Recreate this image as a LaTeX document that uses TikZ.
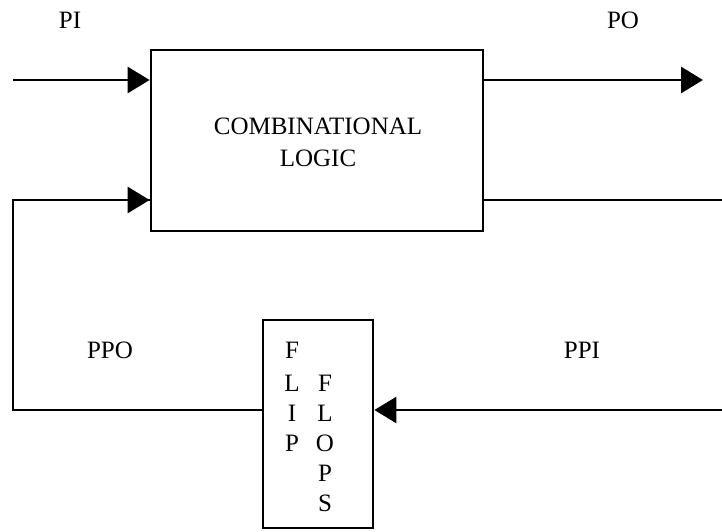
\documentclass[tikz,border=0pt]{standalone}
\usepackage{fontspec}
\setmainfont{Liberation Serif}
\usetikzlibrary{arrows.meta}
\begin{document}
\begin{tikzpicture}[x=1pt,y=-1pt,
  every node/.style={font=\fontsize{25}{32}\selectfont, inner sep=0pt},
  blockbox/.style={draw, line width=2.8pt, rectangle},
  wire/.style={line width=2.8pt},
  arr/.style={wire, -{Triangle[length=22pt,width=26pt]}},
  lbl/.style={anchor=center},
  ltr/.style={anchor=base}]
\useasboundingbox (0,0) rectangle (722,531);
% blocks
\node[blockbox, minimum width=332pt, minimum height=181pt] (cl) at (317,140.5) {};
\node[align=center] (cltext) at (318,142) {COMBINATIONAL\\LOGIC};
\node[blockbox, minimum width=110pt, minimum height=208pt] (ff) at (318,424) {};
% flip flop letters
\node[ltr] (f1) at (292,358.5) {F};
\node[ltr] (l1) at (292,391.5) {L};
\node[ltr] (i1) at (292,421.5) {I};
\node[ltr] (p1) at (292,451.5) {P};
\node[ltr] (f2) at (325,391.5) {F};
\node[ltr] (l2) at (325,421.5) {L};
\node[ltr] (o2) at (325,451.5) {O};
\node[ltr] (p2) at (325,481.5) {P};
\node[ltr] (s2) at (325,511.5) {S};
% labels
\node[lbl] (pi) at (70,20) {PI};
\node[lbl] (po) at (623,20) {PO};
\node[lbl] (ppo) at (110,350) {PPO};
\node[lbl] (ppi) at (582,350) {PPI};
% free ends
\coordinate (piin) at (13,80);
\coordinate (poout) at (703,80);
\coordinate (rtop) at (722,200);
\coordinate (rbot) at (722,410);
\coordinate (lbot) at (13,410);
\coordinate (ltop) at (13,200);
% connectors
\draw[arr] (piin) -- (cl.west |- piin);
\draw[arr] (cl.east |- poout) -- (poout);
\draw[wire] (cl.east |- rtop) -- (rtop);
\draw[arr] (rbot) -- (ff.east |- rbot);
\draw[wire] (ff.west |- lbot) -- (lbot) -- (ltop) -- (cl.west |- ltop);
\draw[arr] (ltop) -- (cl.west |- ltop);
\end{tikzpicture}
\end{document}
